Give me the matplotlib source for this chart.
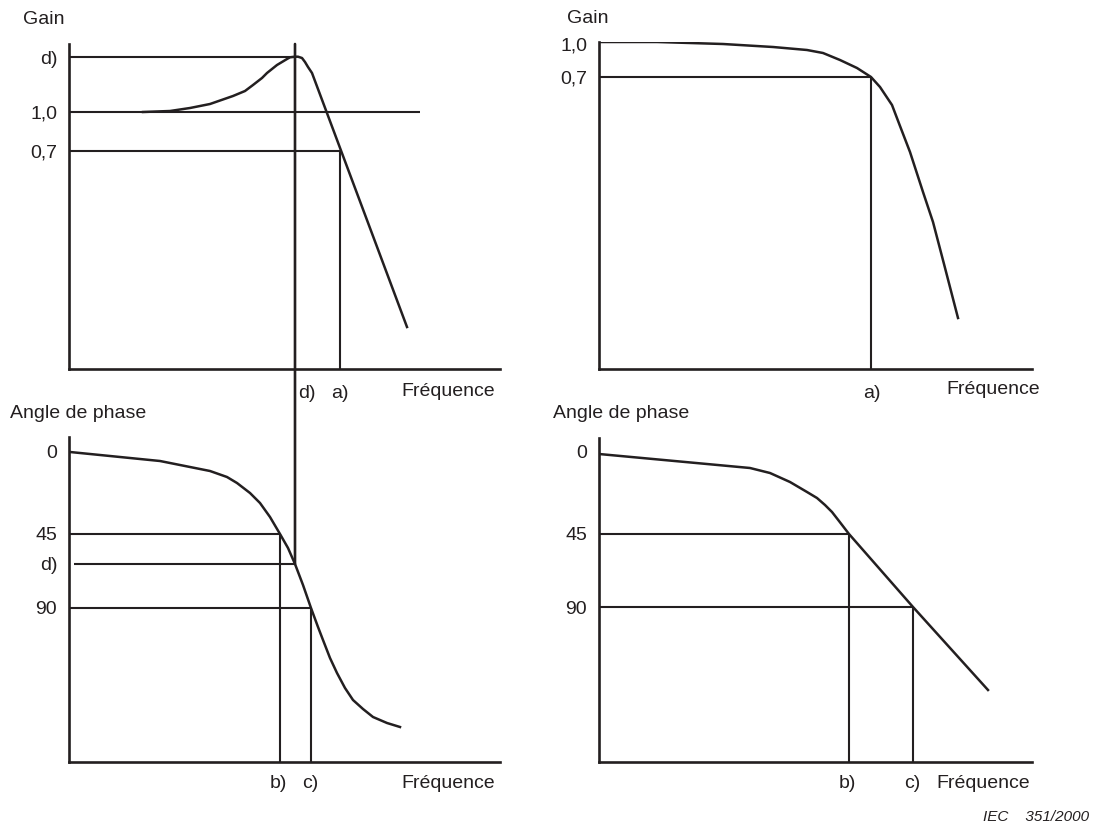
import matplotlib.pyplot as plt
from matplotlib.patches import ConnectionPatch

plt.rcParams['font.family'] = ['Liberation Sans', 'DejaVu Sans']

INK = '#231f20'
W, H = 1096, 827

# drawing units: distance from each panel's origin
# --- left column: amplifier with a resonance peak ---
peak_freq = [74, 101, 121, 141, 164, 176, 184, 193, 198, 208, 218, 221, 226,
             229, 233, 236, 239, 243, 338]
peak_gain = [257, 258, 261, 265, 273, 278, 284, 291, 296, 304, 310, 311.7, 312.3,
             312.3, 311, 307, 302, 296, 42]
peak_gain_levels = [312, 257, 218]
peak_gain_labels = ['d)', '1,0', '0,7']
peak_gain_ends = [226, 351, 271]
peak_fa = 271
peak_fd = 226

peak_phase_freq = [1, 91, 141, 158, 168, 181, 191, 201, 211, 219, 226, 234, 242,
                   249, 254, 261, 268, 276, 284, 294, 304, 318, 331]
peak_phase = [310, 301, 291, 285, 279, 269, 259, 245, 228, 214, 198, 177, 154,
              135, 122, 104, 89, 74, 62, 53, 45, 39, 35]
peak_phase_levels = [311, 228, 198, 154]
peak_phase_labels = ['0', '45', 'd)', '90']
peak_fb = 211
peak_fc = 242

# --- right column: flat response ---
flat_freq = [0, 58, 124, 174, 208, 224, 241, 258, 272, 281, 293, 301, 311, 324,
             334, 345, 359]
flat_gain = [327, 327, 325, 322, 319, 316, 309, 301, 292, 282, 264, 243, 217, 177,
             147, 105, 51]
flat_gain_levels = [325, 292]
flat_gain_labels = ['1,0', '0,7']
flat_fa = 272

flat_phase_freq = [0, 151, 171, 191, 208, 218, 226, 233, 240, 250, 314, 389]
flat_phase = [308, 294, 289, 280, 270, 264, 257, 250, 241, 228, 155, 72]
flat_phase_levels = [311, 228, 155]
flat_phase_labels = ['0', '45', '90']
flat_fb = 250
flat_fc = 314

FS = 14


def panel(rect, xmax, ymax, ticks, labels, title, title_x):
    ax = fig.add_axes(rect)
    ax.set_facecolor('none')
    ax.set_xlim(0, xmax)
    ax.set_ylim(0, ymax)
    for s in ['top', 'right']:
        ax.spines[s].set_visible(False)
    for s in ['left', 'bottom']:
        ax.spines[s].set_linewidth(1.9)
        ax.spines[s].set_color(INK)
    ax.set_xticks([])
    ax.set_yticks(ticks, labels)
    ax.tick_params(axis='y', length=0, pad=8.5, labelsize=FS, labelcolor=INK)
    ax.text(title_x, ymax + 24, title, ha='left', va='center', fontsize=FS, color=INK)
    return ax


fig = plt.figure(figsize=(W / 100, H / 100), dpi=100)

ax_gl = panel([69 / W, (H - 369) / H, 431 / W, 325 / H], 431, 325,
              peak_gain_levels, peak_gain_labels, 'Gain', -46)
ax_pl = panel([69 / W, (H - 762) / H, 431 / W, 325 / H], 431, 325,
              peak_phase_levels, peak_phase_labels, 'Angle de phase', -59)
ax_gr = panel([599 / W, (H - 369) / H, 433 / W, 327 / H], 433, 327,
              flat_gain_levels, flat_gain_labels, 'Gain', -32)
ax_pr = panel([599 / W, (H - 762) / H, 433 / W, 324 / H], 433, 324,
              flat_phase_levels, flat_phase_labels, 'Angle de phase', -46)

lw_curve = 1.8
lw_line = 1.5

# left gain
ax_gl.plot(peak_freq, peak_gain, color=INK, lw=lw_curve, solid_joinstyle='round')
ax_gl.hlines(peak_gain_levels, 0, peak_gain_ends, color=INK, lw=lw_line)
ax_gl.vlines(peak_fa, 0, peak_gain_levels[2], color=INK, lw=lw_line)
ax_gl.text(peak_fd + 12, -24, 'd)', ha='center', va='center', fontsize=FS, color=INK)
ax_gl.text(peak_fa, -24, 'a)', ha='center', va='center', fontsize=FS, color=INK)
ax_gl.text(379, -22, 'Fréquence', ha='center', va='center', fontsize=FS, color=INK)

# left phase
ax_pl.plot(peak_phase_freq, peak_phase, color=INK, lw=lw_curve, solid_joinstyle='round')
ax_pl.hlines(peak_phase_levels[1], 0, peak_fb, color=INK, lw=lw_line)
ax_pl.hlines(peak_phase_levels[2], 5, peak_fd, color=INK, lw=lw_line)
ax_pl.hlines(peak_phase_levels[3], 0, peak_fc, color=INK, lw=lw_line)
ax_pl.vlines(peak_fb, 0, peak_phase_levels[1], color=INK, lw=lw_line)
ax_pl.vlines(peak_fc, 0, peak_phase_levels[3], color=INK, lw=lw_line)
ax_pl.text(peak_fb - 2, -22, 'b)', ha='center', va='center', fontsize=FS, color=INK)
ax_pl.text(peak_fc - 1, -22, 'c)', ha='center', va='center', fontsize=FS, color=INK)
ax_pl.text(379, -21, 'Fréquence', ha='center', va='center', fontsize=FS, color=INK)

# resonance line d) running through both left panels
con = ConnectionPatch(xyA=(peak_fd, 325), coordsA=ax_gl.transData,
                      xyB=(peak_fd, peak_phase_levels[2]), coordsB=ax_pl.transData,
                      color=INK, lw=1.9)
fig.add_artist(con)

# right gain
ax_gr.plot(flat_freq, flat_gain, color=INK, lw=lw_curve, solid_joinstyle='round')
ax_gr.hlines(flat_gain_levels[1], 0, flat_fa, color=INK, lw=lw_line)
ax_gr.vlines(flat_fa, 0, flat_gain_levels[1], color=INK, lw=lw_line)
ax_gr.text(flat_fa + 1, -24, 'a)', ha='center', va='center', fontsize=FS, color=INK)
ax_gr.text(394, -20, 'Fréquence', ha='center', va='center', fontsize=FS, color=INK)

# right phase
ax_pr.plot(flat_phase_freq, flat_phase, color=INK, lw=lw_curve, solid_joinstyle='round')
ax_pr.hlines(flat_phase_levels[1], 0, flat_fb, color=INK, lw=lw_line)
ax_pr.hlines(flat_phase_levels[2], 0, flat_fc, color=INK, lw=lw_line)
ax_pr.vlines(flat_fb, 0, flat_phase_levels[1], color=INK, lw=lw_line)
ax_pr.vlines(flat_fc, 0, flat_phase_levels[2], color=INK, lw=lw_line)
ax_pr.text(flat_fb - 2, -21, 'b)', ha='center', va='center', fontsize=FS, color=INK)
ax_pr.text(flat_fc - 1, -21, 'c)', ha='center', va='center', fontsize=FS, color=INK)
ax_pr.text(384, -21, 'Fréquence', ha='center', va='center', fontsize=FS, color=INK)

fig.text(1089 / W, (H - 817) / H, 'IEC    351/2000', ha='right', va='center',
         fontsize=11, style='italic', color=INK)

fig.savefig('out.png', dpi=100)
